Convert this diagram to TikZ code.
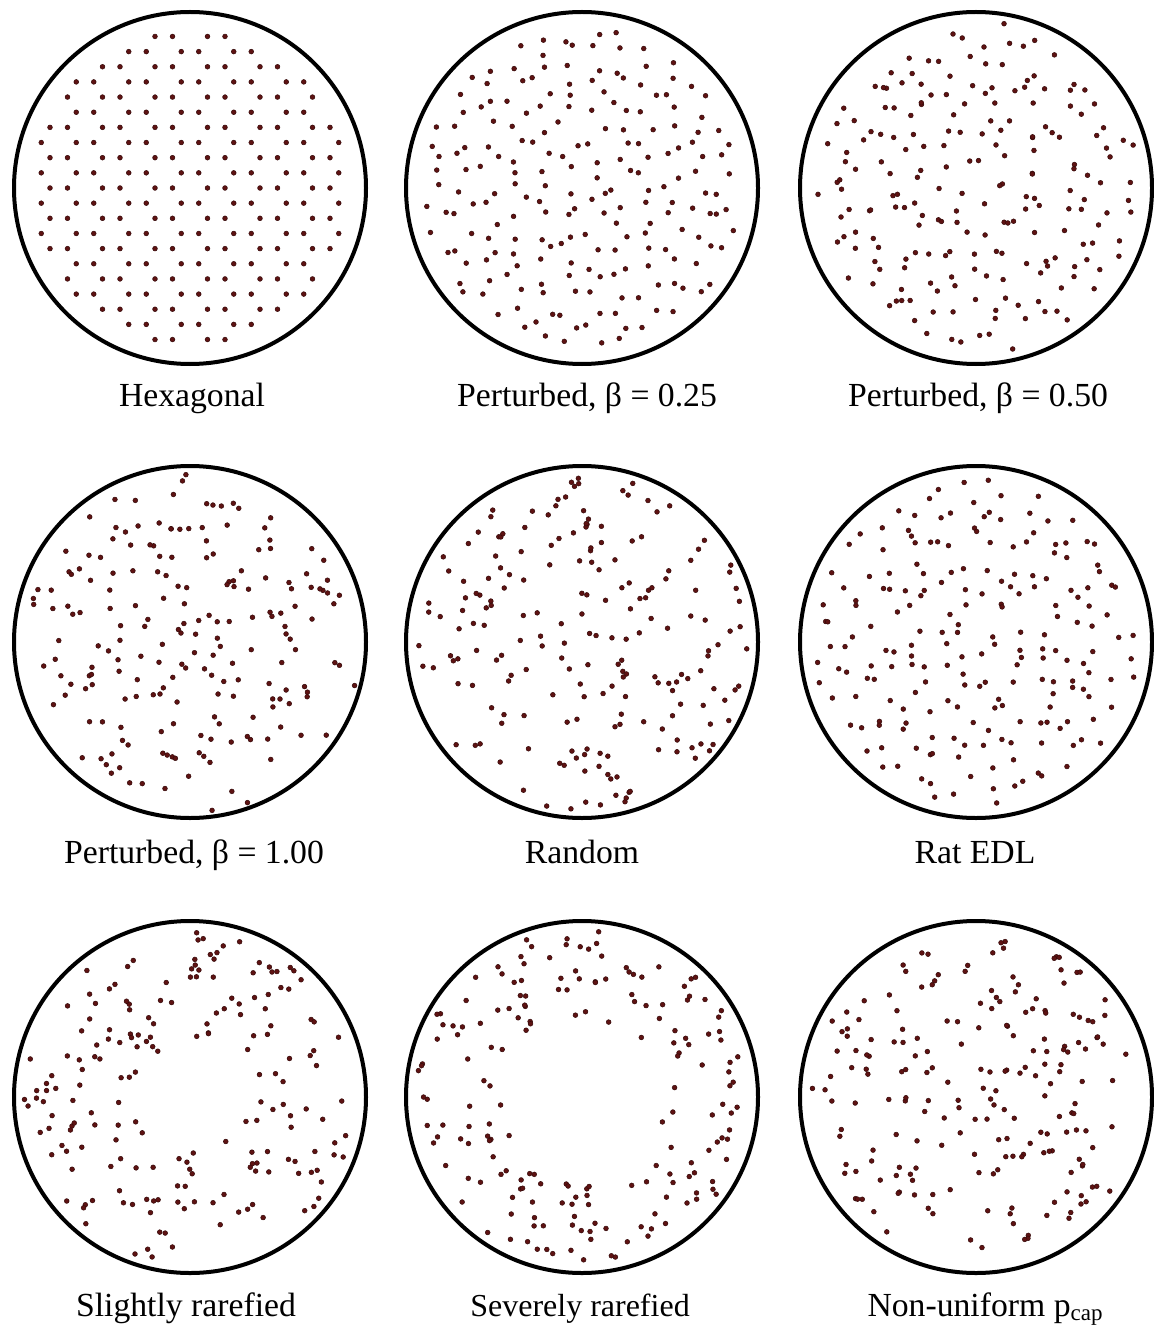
\documentclass[tikz,border=0pt]{standalone}
\usepackage{fontspec}
\setmainfont{Liberation Serif}
\usetikzlibrary{positioning}
\definecolor{ink}  {HTML}{000000}
\definecolor{speck}{HTML}{5E1212}
\tikzset{
  % --- nodes
  dish/.style = {circle, draw=ink, line width=4pt, minimum size=352pt, inner sep=0pt},
  lbl/.style  = {font=\fontsize{33.7}{40}\selectfont, anchor=base, inner sep=0pt},
  % --- dots
  dot/.style  = {fill=speck, draw=speck!55!black, line width=0.5pt},
}
% honeycomb lattice, optionally shaken: #1 seed, #2 beta
\newcommand{\latticedots}[2]{%
  \pgfmathsetseed{#1}
  \foreach \k in {-11,...,11}{
    \foreach \n in {-11,...,11}{
      \pgfmathsetmacro{\px}{(\n+0.5*isodd(\k))*17.5}
      \pgfmathsetmacro{\py}{\k*15.155}
      \pgfmathsetmacro{\jx}{\px+#2*26*rand}
      \pgfmathsetmacro{\jy}{\py+#2*26*rand}
      \pgfmathtruncatemacro{\keep}{and(mod(\n+30,3)!=isodd(\k), veclen(\px,\py)<160)}
      \pgfmathtruncatemacro{\inside}{veclen(\jx,\jy)<171}
      \ifnum\keep\inside=11 \fill[dot] (\jx,\jy) circle (2.4pt);\fi
    }
  }
}
% uniform dots in a ring: #1 seed, #2 count, #3 inner, #4 outer radius
\newcommand{\diskdots}[4]{%
  \pgfmathsetseed{#1}
  \foreach \i in {1,...,#2}{
    \pgfmathsetmacro{\rr}{10*sqrt((#3/10)^2+((#4/10)^2-(#3/10)^2)*rnd)}
    \pgfmathsetmacro{\aa}{360*rnd}
    \fill[dot] (\aa:\rr) circle (2.4pt);
  }
}

\begin{document}
\begin{tikzpicture}[x=1pt, y=-1pt]
  \useasboundingbox (0,0) rectangle (1153,1329);
  % row 1
  \begin{scope}[shift={(190,188)}]
    \latticedots{11}{0}
    \node[dish] (hex) at (0,0) {};
    \node[lbl] (hexlbl) at (2,218) {Hexagonal};
  \end{scope}
  \begin{scope}[shift={(582,188)}]
    \latticedots{23}{0.25}
    \node[dish] (pqtr) at (0,0) {};
    \node[lbl] (pqtrlbl) at (5,218) {Perturbed, β = 0.25};
  \end{scope}
  \begin{scope}[shift={(976,188)}]
    \latticedots{37}{0.50}
    \node[dish] (phalf) at (0,0) {};
    \node[lbl] (phalflbl) at (2,218) {Perturbed, β = 0.50};
  \end{scope}
  % row 2
  \begin{scope}[shift={(190,642)}]
    \latticedots{41}{1.00}
    \node[dish] (pone) at (0,0) {};
    \node[lbl] (ponelbl) at (4,221) {Perturbed, β = 1.00};
  \end{scope}
  \begin{scope}[shift={(582,642)}]
    \diskdots{53}{200}{0}{168}
    \node[dish] (rand) at (0,0) {};
    \node[lbl] (randlbl) at (0,221) {Random};
  \end{scope}
  \begin{scope}[shift={(976,642)}]
    \latticedots{67}{0.40}
    \node[dish] (edl) at (0,0) {};
    \node[lbl] (edllbl) at (-1,221) {Rat EDL};
  \end{scope}
  % row 3
  \begin{scope}[shift={(190,1097)}]
    \diskdots{71}{190}{55}{167}
    \node[dish] (slight) at (0,0) {};
    \node[lbl] (slightlbl) at (-4,219) {Slightly rarefied};
  \end{scope}
  \begin{scope}[shift={(582,1097)}]
    \diskdots{83}{185}{78}{167}
    \node[dish] (severe) at (0,0) {};
    \node[lbl, font=\fontsize{32}{38}\selectfont] (severelbl) at (-2,219) {Severely rarefied};
  \end{scope}
  \begin{scope}[shift={(976,1097)}]
    \diskdots{97}{200}{0}{164}
    \node[dish] (nonuni) at (0,0) {};
    \node[lbl] (nonunilbl) at (9,219)
      {Non-uniform p\raisebox{-0.32ex}{\fontsize{23}{26}\selectfont cap}};
  \end{scope}
\end{tikzpicture}
\end{document}
